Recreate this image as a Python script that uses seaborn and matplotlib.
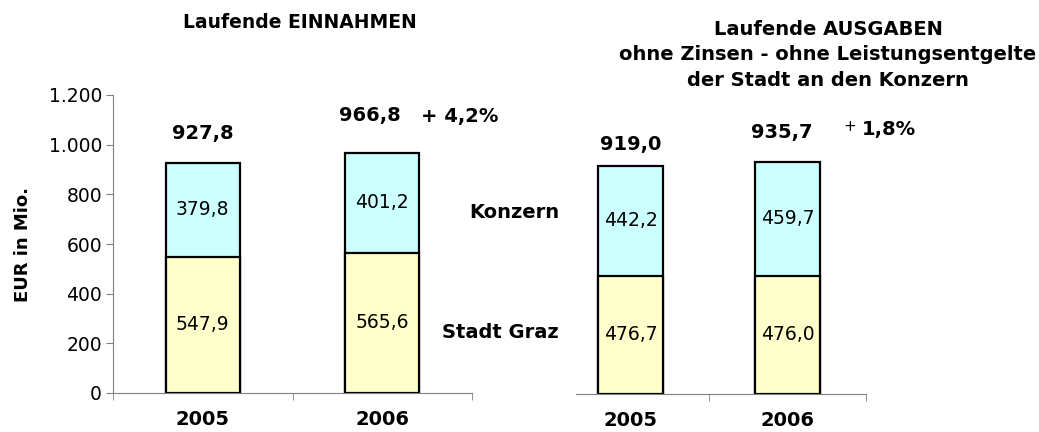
import numpy as np
import pandas as pd
import matplotlib
matplotlib.use("Agg")
import matplotlib.pyplot as plt
from matplotlib.ticker import FuncFormatter, FixedLocator
import seaborn as sns

# --- data ---
years = ["2005", "2006"]
ein_stadt = [547.9, 565.6]
ein_konzern = [379.8, 401.2]
ein_total = [927.8, 966.8]
aus_stadt = [476.7, 476.0]
aus_konzern = [442.2, 459.7]
aus_total = [919.0, 935.7]

yellow = "#FFFFCC"
cyan = "#CCFFFF"
grey = "#808080"

sns.set_style("white")
plt.rcParams["font.family"] = ["DejaVu Sans"]
plt.rcParams.update({"text.color": "black", "axes.labelcolor": "black",
                     "xtick.color": "black", "ytick.color": "black",
                     "xtick.bottom": True, "ytick.left": True})

fig = plt.figure(figsize=(10.39, 4.32), dpi=100)
W, H = 1039, 432
ax1 = fig.add_axes([113 / W, 39 / H, 359 / W, 298 / H])
ax2 = fig.add_axes([552 / W, 38 / H, 314 / W, 298 / H])


def de(v):
    return f"{v:.1f}".replace(".", ",")


def draw(ax, stadt, konzern, total, width, top_pad):
    df = pd.DataFrame({"Jahr": years, "Stadt": stadt, "Konzern": konzern, "Total": total})
    sns.barplot(data=df, x="Jahr", y="Total", color=cyan, width=width,
                edgecolor="black", linewidth=1.6, saturation=1, ax=ax)
    sns.barplot(data=df, x="Jahr", y="Stadt", color=yellow, width=width,
                edgecolor="black", linewidth=1.6, saturation=1, ax=ax)
    ax.set_ylim(0, 1200)
    ax.set_xlim(-0.5, 1.5)
    for i in range(len(years)):
        ax.text(i, stadt[i] / 2, de(stadt[i]), ha="center", va="center", fontsize=13.5)
        ax.text(i, stadt[i] + (total[i] - stadt[i]) / 2, de(konzern[i]),
                ha="center", va="center", fontsize=13.5)
        ax.annotate(de(total[i]), (i, total[i]), xytext=top_pad[i],
                    textcoords="offset points", ha="center", va="center",
                    fontsize=14, fontweight="bold")
    ax.set_xlabel("")
    ax.set_ylabel("")
    ax.set_xticks(range(len(years)))
    ax.set_xticklabels(years, fontsize=14, fontweight="bold")
    ax.tick_params(axis="x", which="major", length=0, pad=12)
    for s in ["top", "right"]:
        ax.spines[s].set_visible(False)
    ax.spines["bottom"].set_color(grey)
    ax.spines["left"].set_color(grey)
    ax.xaxis.set_minor_locator(FixedLocator([0.5, 1.5]))
    ax.tick_params(axis="x", which="minor", length=5, color=grey, direction="out")


draw(ax1, ein_stadt, ein_konzern, ein_total, 0.41, [(0, 21), (-9, 27)])
draw(ax2, aus_stadt, aus_konzern, aus_total, 0.41, [(0, 15), (-4, 21)])

# left axis
ax1.xaxis.set_minor_locator(FixedLocator([-0.5, 0.5, 1.5]))
ax1.set_yticks(np.arange(0, 1201, 200))
ax1.yaxis.set_major_formatter(FuncFormatter(lambda v, p: f"{int(v):,}".replace(",", ".")))
ax1.tick_params(axis="y", length=5, color=grey, direction="out", labelsize=13.5, pad=3)
ax1.set_ylabel("EUR in Mio.", fontsize=13, fontweight="bold", labelpad=12)

# right axis: no y axis
ax2.spines["left"].set_visible(False)
ax2.set_yticks([])
ax2.spines["bottom"].set_bounds(-0.35, 1.5)

# growth labels
fig.text(460 / W, 1 - 116 / H, "+ 4,2%", ha="center", va="center", fontsize=14, fontweight="bold")
fig.text(850 / W, 1 - 127 / H, "+", ha="center", va="center", fontsize=11)
fig.text(889 / W, 1 - 130 / H, "1,8%", ha="center", va="center", fontsize=14, fontweight="bold")

# category labels in the middle
fig.text(559 / W, 1 - 213 / H, "Konzern", ha="right", va="center", fontsize=14, fontweight="bold")
fig.text(559 / W, 1 - 333 / H, "Stadt Graz", ha="right", va="center", fontsize=14, fontweight="bold")

# titles
fig.text(300 / W, 1 - 22 / H, "Laufende EINNAHMEN", ha="center", va="center", fontsize=13.5, fontweight="bold")
fig.text(828 / W, 1 - 55 / H, "Laufende AUSGABEN\nohne Zinsen - ohne Leistungsentgelte\nder Stadt an den Konzern",
         ha="center", va="center", fontsize=14, fontweight="bold", linespacing=1.45)

fig.savefig("out.png", dpi=100, facecolor="white")
